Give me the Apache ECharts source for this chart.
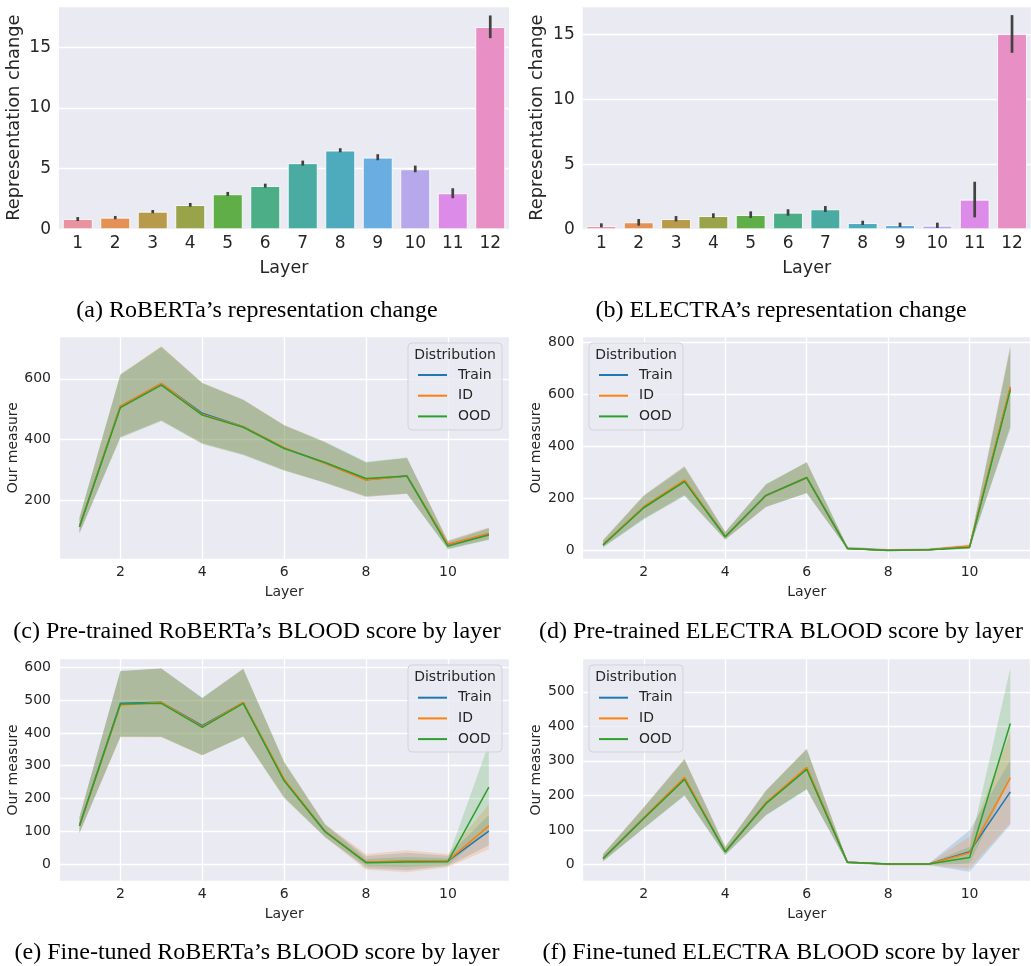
<!DOCTYPE html>
<html>
<head>
<meta charset="utf-8">
<script src="https://cdn.jsdelivr.net/npm/echarts@6/dist/echarts.min.js"></script>
<style>
  html, body { margin: 0; padding: 0; background: #ffffff; }
  #main { width: 1031px; height: 966px; }
</style>
</head>
<body>
<div id="main"></div>
<script>
// ---- Representation change per layer (bar panels) ----
const barLayers = ['1', '2', '3', '4', '5', '6', '7', '8', '9', '10', '11', '12'];
const robertaChange = [0.85, 0.96, 1.45, 2.00, 2.89, 3.57, 5.45, 6.49, 5.91, 4.95, 2.97, 16.67];
const robertaLow    = [0.68, 0.83, 1.32, 1.86, 2.75, 3.43, 5.25, 6.35, 5.69, 4.70, 2.56, 15.75];
const robertaHigh   = [1.01, 1.10, 1.59, 2.17, 3.08, 3.76, 5.66, 6.68, 6.19, 5.25, 3.38, 17.62];
const electraChange = [0.25, 0.54, 0.79, 1.02, 1.10, 1.28, 1.54, 0.48, 0.33, 0.28, 2.28, 15.02];
const electraLow    = [0.15, 0.28, 0.61, 0.87, 0.87, 1.05, 1.33, 0.33, 0.18, 0.10, 0.92, 13.58];
const electraHigh   = [0.46, 0.79, 1.02, 1.23, 1.38, 1.54, 1.79, 0.66, 0.51, 0.51, 3.66, 16.48];

// ---- BLOOD score per layer (line panels) ----
const lineLayers = [1, 2, 3, 4, 5, 6, 7, 8, 9, 10, 11];
const distributions = ['Train', 'ID', 'OOD'];

// (c) pre-trained RoBERTa
const ptRobertaTrain = [112, 509, 584, 486, 442, 372, 322, 267, 279, 53, 88];
const ptRobertaID    = [112, 510, 585, 482, 442, 373, 321, 266, 279, 54, 90];
const ptRobertaOOD   = [112, 505, 579, 480, 440, 370, 324, 271, 279, 48, 85];
const ptRobertaTrainLo = [91, 408, 463, 388, 351, 299, 257, 211, 221, 39, 70];
const ptRobertaTrainHi = [141, 612, 705, 586, 531, 446, 390, 324, 339, 66, 108];
const ptRobertaIDLo    = [91, 409, 462, 386, 350, 298, 256, 210, 221, 40, 71];
const ptRobertaIDHi    = [142, 614, 708, 587, 532, 448, 391, 323, 339, 67, 110];
const ptRobertaOODLo   = [90, 405, 460, 385, 348, 297, 258, 213, 222, 37, 68];
const ptRobertaOODHi   = [143, 615, 705, 585, 530, 447, 392, 326, 340, 62, 106];

// (d) pre-trained ELECTRA
const ptElectraTrain = [20, 166, 268, 52, 210, 280, 6, -1, 1, 13, 626];
const ptElectraID    = [21, 167, 270, 52, 210, 280, 6, -1, 1, 15, 630];
const ptElectraOOD   = [19, 163, 264, 51, 211, 279, 6, -2, 1, 10, 617];
const ptElectraTrainLo = [11, 121, 211, 40, 166, 220, 3, -4, -2, 6, 475];
const ptElectraTrainHi = [38, 210, 322, 70, 253, 338, 11, 4, 6, 20, 785];
const ptElectraIDLo    = [11, 122, 213, 40, 166, 221, 3, -4, -2, 7, 478];
const ptElectraIDHi    = [39, 211, 324, 70, 253, 339, 11, 4, 6, 22, 791];
const ptElectraOODLo   = [10, 118, 208, 39, 167, 219, 3, -4, -2, 5, 469];
const ptElectraOODHi   = [37, 208, 318, 68, 255, 340, 12, 3, 5, 17, 775];

// (e) fine-tuned RoBERTa
const ftRobertaTrain = [117, 490, 493, 422, 492, 257, 100, 6, 9, 10, 101];
const ftRobertaID    = [117, 485, 493, 419, 493, 259, 100, 7, 10, 11, 117];
const ftRobertaOOD   = [117, 488, 490, 417, 490, 254, 99, 5, 7, 8, 235];
const ftRobertaTrainLo = [95, 389, 388, 333, 390, 205, 83, -12, -18, -5, 58];
const ftRobertaTrainHi = [144, 589, 596, 507, 595, 311, 121, 25, 35, 26, 150];
const ftRobertaIDLo    = [94, 387, 387, 331, 389, 203, 82, -17, -24, -9, 46];
const ftRobertaIDHi    = [145, 587, 597, 505, 596, 313, 123, 31, 43, 31, 183];
const ftRobertaOODLo   = [96, 388, 388, 332, 388, 201, 82, -5, -8, -2, 102];
const ftRobertaOODHi   = [143, 588, 595, 506, 594, 310, 121, 16, 22, 18, 368];

// (f) fine-tuned ELECTRA
const ftElectraTrain = [17, 135, 250, 37, 178, 279, 6, 1, 1, 37, 210];
const ftElectraID    = [17, 135, 252, 37, 179, 281, 6, 1, 1, 34, 251];
const ftElectraOOD   = [17, 133, 246, 37, 176, 275, 6, 1, 1, 20, 408];
const ftElectraTrainLo = [9, 105, 200, 27, 143, 218, 3, -2, -2, -21, 115];
const ftElectraTrainHi = [30, 165, 305, 51, 214, 334, 9, 3, 3, 99, 302];
const ftElectraIDLo    = [9, 106, 201, 28, 144, 219, 3, -2, -2, -12, 120];
const ftElectraIDHi    = [30, 166, 307, 51, 215, 336, 9, 3, 3, 80, 380];
const ftElectraOODLo   = [9, 104, 199, 27, 142, 217, 3, -2, -2, 3, 250];
const ftElectraOODHi   = [29, 164, 303, 50, 213, 333, 9, 3, 3, 51, 568];

// ---- styling ----
const barColors = ['#e8939d', '#e39155', '#b89a4b', '#99a34a', '#5fae47', '#4bae86',
                   '#4aaba2', '#4eaabd', '#6aade0', '#b7a8eb', '#dc8ce8', '#e88fc5'];
const lineColors = { Train: '#1f77b4', ID: '#ff7f0e', OOD: '#2ca02c' };
const TEXT = '#262626';
const SANS = 'DejaVu Sans';
const PANEL_BG = '#eaeaf2';

const grids = [
  { left: 59,    top: 6,     width: 450,   height: 223.3 },  // (a)
  { left: 582.7, top: 6,     width: 448,   height: 223.3 },  // (b)
  { left: 59,    top: 336,   width: 450.3, height: 223.3 },  // (c)
  { left: 582.7, top: 336,   width: 448,   height: 223.3 },  // (d)
  { left: 59,    top: 658.3, width: 450.3, height: 223.4 },  // (e)
  { left: 582.7, top: 658.3, width: 448,   height: 223.4 }   // (f)
].map(g => Object.assign({ show: true, backgroundColor: PANEL_BG, borderWidth: 0, containLabel: false }, g));

const gridLine = { show: true, lineStyle: { color: '#ffffff', width: 1.3 } };

function barXAxis(gi) {
  return {
    type: 'category', gridIndex: gi, data: barLayers,
    axisLine: { show: false }, axisTick: { show: false }, splitLine: { show: false },
    axisLabel: { color: TEXT, fontFamily: SANS, fontSize: 17, margin: 6 },
    name: 'Layer', nameLocation: 'middle', nameGap: 30,
    nameTextStyle: { color: TEXT, fontFamily: SANS, fontSize: 17.5 }
  };
}
function barYAxis(gi, max) {
  return {
    type: 'value', gridIndex: gi, min: 0, max: max, splitNumber: 4,
    axisLine: { show: false }, axisTick: { show: false }, splitLine: gridLine,
    axisLabel: { color: TEXT, fontFamily: SANS, fontSize: 17, margin: 8, showMaxLabel: false },
    name: 'Representation change', nameLocation: 'middle', nameGap: 36,
    nameTextStyle: { color: TEXT, fontFamily: SANS, fontSize: 17.8 }
  };
}
function lineXAxis(gi) {
  return {
    type: 'value', gridIndex: gi, min: 0.5, max: 11.5, splitNumber: 5,
    axisLine: { show: false }, axisTick: { show: false }, splitLine: gridLine,
    axisLabel: { color: TEXT, fontFamily: SANS, fontSize: 14, margin: 6,
                 showMinLabel: false, showMaxLabel: false },
    name: 'Layer', nameLocation: 'middle', nameGap: 26,
    nameTextStyle: { color: TEXT, fontFamily: SANS, fontSize: 14 }
  };
}
function lineYAxis(gi, min, max, splitNumber) {
  return {
    type: 'value', gridIndex: gi, min: min, max: max, splitNumber: splitNumber,
    axisLine: { show: false }, axisTick: { show: false }, splitLine: gridLine,
    axisLabel: { color: TEXT, fontFamily: SANS, fontSize: 14, margin: 8,
                 showMinLabel: false, showMaxLabel: false },
    name: 'Our measure', nameLocation: 'middle', nameGap: 39,
    nameTextStyle: { color: TEXT, fontFamily: SANS, fontSize: 14 }
  };
}

// Vertical error bar drawn through the category axis scale
function renderErrorBar(params, api) {
  const lo = api.coord([api.value(0), api.value(1)]);
  const hi = api.coord([api.value(0), api.value(2)]);
  return {
    type: 'line',
    shape: { x1: lo[0], y1: lo[1], x2: hi[0], y2: hi[1] },
    style: { stroke: '#424242', lineWidth: 2.7 }
  };
}

// Confidence band: one polygon built from every [x, lower, upper] item
function renderBand(params, api) {
  if (params.dataIndexInside !== 0) return null;
  const n = params.dataInsideLength;
  const upper = [], lower = [];
  for (let i = 0; i < n; i++) {
    upper.push(api.coord([api.value(0, i), api.value(2, i)]));
    lower.push(api.coord([api.value(0, i), api.value(1, i)]));
  }
  return {
    type: 'polygon',
    shape: { points: upper.concat(lower.reverse()) },
    style: { fill: api.visual('color'), opacity: 0.2 }
  };
}

function barSeries(gi, values, low, high) {
  return [
    {
      type: 'bar', xAxisIndex: gi, yAxisIndex: gi, barWidth: '80%',
      data: values.map((v, i) => ({ value: v, itemStyle: { color: barColors[i] } })),
      itemStyle: { borderColor: 'rgba(255,255,255,0.85)', borderWidth: 1 },
      emphasis: { disabled: true }, silent: true
    },
    {
      type: 'custom', xAxisIndex: gi, yAxisIndex: gi, z: 5,
      data: values.map((v, i) => [i, low[i], high[i]]),
      renderItem: renderErrorBar, silent: true
    }
  ];
}

function lineGroup(gi, means, lows, highs) {
  const out = [];
  distributions.forEach((name, k) => {
    out.push({
      type: 'custom', name: name, xAxisIndex: gi, yAxisIndex: gi, z: 1,
      itemStyle: { color: lineColors[name] },
      data: lineLayers.map((x, i) => [x, lows[k][i], highs[k][i]]),
      renderItem: renderBand, silent: true, clip: true
    });
  });
  distributions.forEach((name, k) => {
    out.push({
      type: 'line', name: name, xAxisIndex: gi, yAxisIndex: gi, z: 3,
      showSymbol: false, symbol: 'none',
      color: lineColors[name],
      lineStyle: { width: 1.5, color: lineColors[name] },
      data: lineLayers.map((x, i) => [x, means[k][i]]),
      silent: true
    });
  });
  return out;
}

function legendAt(left, top) {
  return {
    orient: 'vertical', left: left, top: top, z: 20,
    itemWidth: 29, itemHeight: 2, itemGap: 6.7, icon: 'rect',
    data: distributions, selectedMode: false, padding: 0,
    textStyle: { color: TEXT, fontFamily: SANS, fontSize: 14, lineHeight: 14, padding: [0, 0, 0, 6] }
  };
}

function legendFrame(x, y, w, h) {
  return [
    { type: 'rect', z: 8, shape: { x: x, y: y, width: w, height: h, r: 4 },
      style: { fill: 'rgba(234,234,242,0.8)', stroke: '#d3d3da', lineWidth: 1 } },
    { type: 'text', z: 9, x: x + w / 2, y: y + 12.5,
      style: { text: 'Distribution', fill: TEXT, font: '14px "DejaVu Sans"',
               align: 'center', verticalAlign: 'middle' } }
  ];
}

function caption(text, cx, cy) {
  return { type: 'text', x: cx, y: cy,
    style: { text: text, fill: '#000000', font: '24px "Liberation Serif"',
             align: 'center', verticalAlign: 'middle' } };
}

const option = {
  animation: false,
  grid: grids,
  xAxis: [barXAxis(0), barXAxis(1), lineXAxis(2), lineXAxis(3), lineXAxis(4), lineXAxis(5)],
  yAxis: [barYAxis(0, 18.4), barYAxis(1, 17.18),
          lineYAxis(2, 4.6, 741, 4), lineYAxis(3, -36, 826, 4),
          lineYAxis(4, -53, 627, 7), lineYAxis(5, -50, 597, 6)],
  legend: [legendAt(418, 368), legendAt(599, 368), legendAt(418, 690.7), legendAt(599, 690.7)],
  series: [].concat(
    barSeries(0, robertaChange, robertaLow, robertaHigh),
    barSeries(1, electraChange, electraLow, electraHigh),
    lineGroup(2, [ptRobertaTrain, ptRobertaID, ptRobertaOOD],
                 [ptRobertaTrainLo, ptRobertaIDLo, ptRobertaOODLo],
                 [ptRobertaTrainHi, ptRobertaIDHi, ptRobertaOODHi]),
    lineGroup(3, [ptElectraTrain, ptElectraID, ptElectraOOD],
                 [ptElectraTrainLo, ptElectraIDLo, ptElectraOODLo],
                 [ptElectraTrainHi, ptElectraIDHi, ptElectraOODHi]),
    lineGroup(4, [ftRobertaTrain, ftRobertaID, ftRobertaOOD],
                 [ftRobertaTrainLo, ftRobertaIDLo, ftRobertaOODLo],
                 [ftRobertaTrainHi, ftRobertaIDHi, ftRobertaOODHi]),
    lineGroup(5, [ftElectraTrain, ftElectraID, ftElectraOOD],
                 [ftElectraTrainLo, ftElectraIDLo, ftElectraOODLo],
                 [ftElectraTrainHi, ftElectraIDHi, ftElectraOODHi])
  ),
  graphic: [].concat(
    legendFrame(408, 343, 94, 87),
    legendFrame(589, 343, 94, 87),
    legendFrame(408, 665, 94, 87),
    legendFrame(589, 665, 94, 87),
    [
      caption('(a) RoBERTa’s representation change', 257, 311),
      caption('(b) ELECTRA’s representation change', 781, 311),
      caption('(c) Pre-trained RoBERTa’s BLOOD score by layer', 257, 632),
      caption('(d) Pre-trained ELECTRA BLOOD score by layer', 781, 632),
      caption('(e) Fine-tuned RoBERTa’s BLOOD score by layer', 257, 953),
      caption('(f) Fine-tuned ELECTRA BLOOD score by layer', 781, 953)
    ]
  )
};

const chart = echarts.init(document.getElementById('main'));
chart.setOption(option);
</script>
</body>
</html>
